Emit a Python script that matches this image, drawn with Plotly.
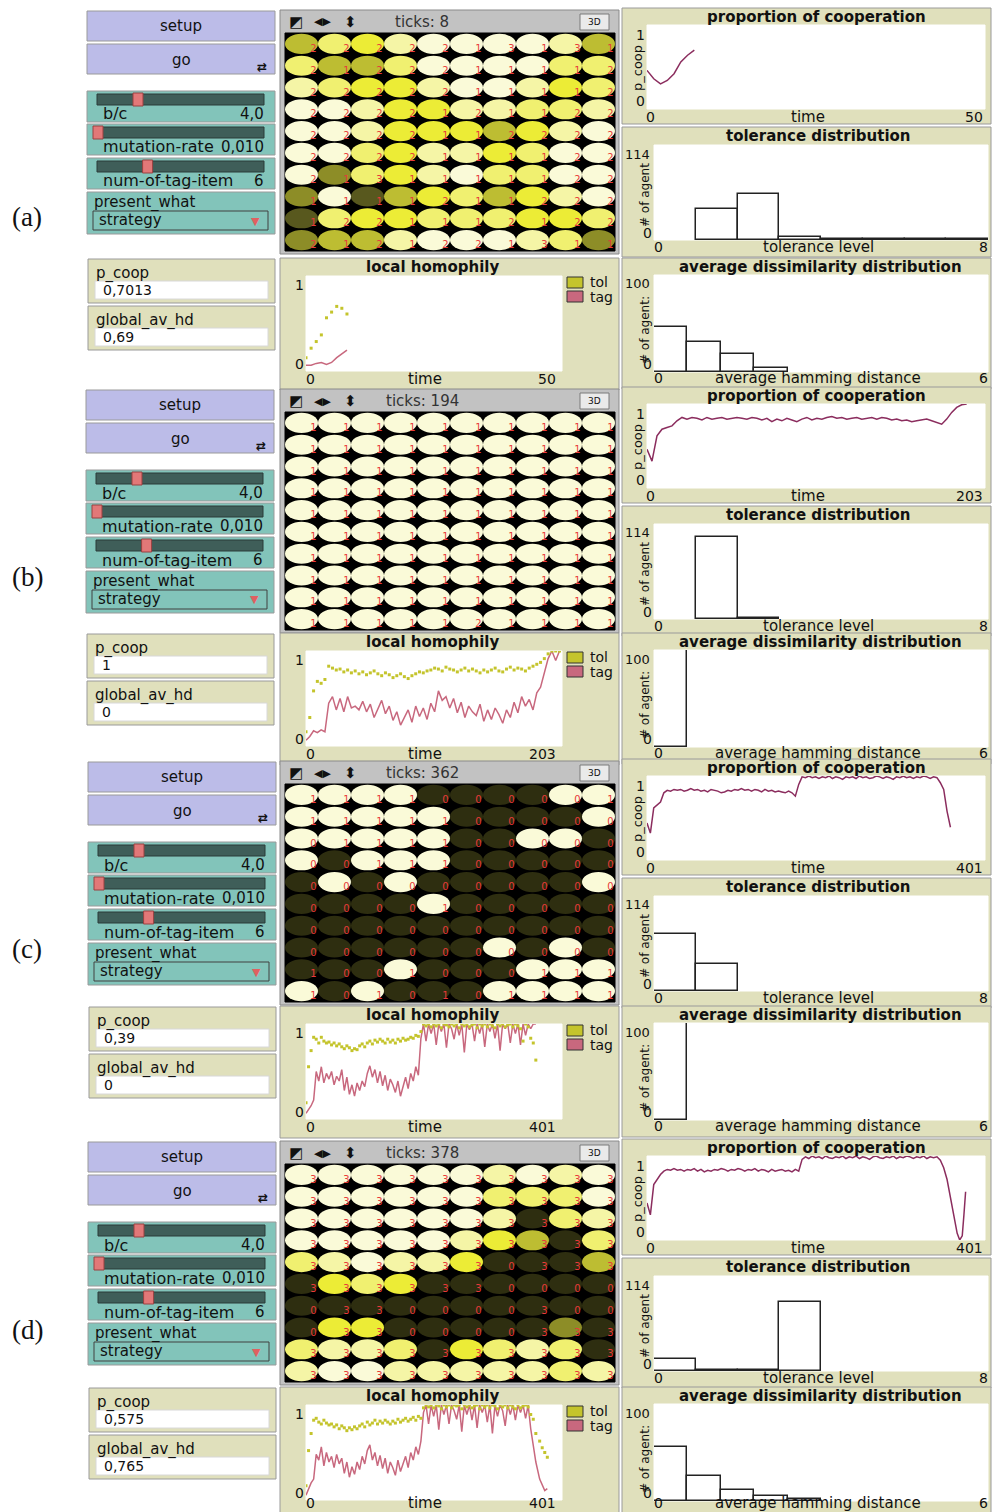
import plotly.graph_objects as go

W, H = 993, 1512
FONT = "DejaVu Sans"

# ------------------------------------------------------------------ data
panel_names = ["(a)", "(b)", "(c)", "(d)"]
ticks_now = [8, 194, 362, 378]
time_max = [50, 203, 401, 401]
monitor_pcoop = ["0,7013", "1", "0,39", "0,575"]
monitor_hd = ["0,69", "0", "0", "0,765"]
slider_names = ["b/c", "mutation-rate", "num-of-tag-item"]
slider_values = ["4,0", "0,010", "6"]
slider_pos = [0.25, 0.0, 0.31]          # handle position along the track
chooser_value = "strategy"

color_codes = {"W": "#FAFAD8", "P": "#F5F5A6", "M": "#F0F070", "B": "#ECEC36",
               "O": "#BDBD32", "K": "#8D8D27", "V": "#58581E", "D": "#2E2E10"}

grid_a = ["OMBPWWWWPO", "MOOMWWWWMM", "PMBBPWWPBM", "WWPBBPPMMP", "WWPBBBOBPW",
          "WWMBPPBMWW", "WKMBPWMMWW", "KWVOBMOBPW", "VMBBMMMBBM", "KOOPWWWPMK"]
tags_a = ["2222213131", "2122211112", "2222211112", "2222121122", "2222112222",
          "2222111122", "2131111122", "1111211222", "1221112122", "2121221311"]
grid_b = ["WWWWWWWWWW"] * 10
tags_b = ["1111111111"] * 9 + ["1111121111"]
grid_c = ["WWWWDDDDWW", "WWWWWDDDDW", "WWWWWDDWWD", "WDWWWDDDDD", "DWDWDDDDDW",
          "DDDDWDDDDD", "DDDDDDDDDD", "DDDDDDWDWD", "DDDWDDDWWW", "WDWDDDWWWW"]
tags_c = ["1111000001", "1111100000", "0111100000", "0011100000", "0000000000",
          "0000100000", "0000000000", "0000000000", "1001000111", "1010101111"]
grid_d = ["WWWWWWPWPW", "WWWWWWMMMW", "WWWWWWPDMP", "WWWWWPBODM", "MPWPPBDDDO",
          "DBMBDDDDDD", "DDDDDDDDDD", "DBBDDDDDKD", "MPPMDBMPMD", "PWWPPPPPMP"]
tags_d = ["3333333333", "3333333333", "3333333333", "3333333333", "3333330333",
          "3333330000", "0330000300", "0330000333", "3333333333", "3333333333"]

# proportion of cooperation
pcoop_a = [0.46, 0.36, 0.30, 0.34, 0.42, 0.56, 0.64, 0.70]
pcoop_b = [0.46, 0.32, 0.62, 0.70, 0.72, 0.74, 0.80, 0.84, 0.82, 0.84,
           0.83, 0.81, 0.84, 0.82, 0.83, 0.84, 0.82, 0.83, 0.84, 0.83,
           0.82, 0.84, 0.83, 0.81, 0.83, 0.79, 0.82, 0.80, 0.83, 0.81,
           0.79, 0.82, 0.84, 0.81, 0.83, 0.82, 0.84, 0.85, 0.83, 0.84,
           0.82, 0.83, 0.84, 0.82, 0.83, 0.84, 0.82, 0.84, 0.83, 0.81,
           0.82, 0.80, 0.81, 0.79, 0.80, 0.81, 0.82, 0.80, 0.78, 0.76,
           0.82, 0.90, 0.96, 0.99, 1.00]
pcoop_c = [0.44, 0.32, 0.62, 0.66, 0.69, 0.80, 0.83, 0.82, 0.84, 0.83,
           0.84, 0.82, 0.83, 0.85, 0.83, 0.84, 0.82, 0.83, 0.81, 0.84,
           0.83, 0.82, 0.80, 0.81, 0.83, 0.82, 0.84, 0.83, 0.85, 0.83,
           0.84, 0.82, 0.84, 0.83, 0.81, 0.84, 0.82, 0.83, 0.81, 0.82,
           0.81, 0.80, 0.82, 0.80, 0.76, 0.90, 0.99, 0.98, 1.00, 0.98,
           0.99, 0.97, 0.99, 0.98, 1.00, 0.97, 0.99, 0.98, 0.96, 0.99,
           0.98, 0.99, 0.97, 1.00, 0.98, 0.99, 0.97, 0.98, 1.00, 0.99,
           0.97, 0.99, 0.98, 0.96, 0.99, 0.98, 1.00, 0.98, 0.99, 0.97,
           0.99, 0.98, 1.00, 0.99, 0.97, 0.99, 0.98, 0.92, 0.84, 0.58, 0.39]
pcoop_d = [0.44, 0.30, 0.66, 0.72, 0.78, 0.82, 0.84, 0.83, 0.85, 0.83,
           0.84, 0.82, 0.84, 0.83, 0.85, 0.82, 0.84, 0.81, 0.83, 0.82,
           0.84, 0.83, 0.85, 0.84, 0.82, 0.84, 0.83, 0.85, 0.84, 0.82,
           0.84, 0.83, 0.85, 0.82, 0.84, 0.83, 0.81, 0.84, 0.82, 0.83,
           0.84, 0.82, 0.83, 0.81, 0.84, 0.82, 0.96, 0.99, 0.97, 1.00,
           0.98, 0.99, 0.97, 1.00, 0.98, 0.97, 0.99, 0.98, 1.00, 0.97,
           0.99, 0.98, 1.00, 0.97, 0.99, 0.98, 0.96, 0.99, 1.00, 0.98,
           0.97, 0.99, 0.98, 1.00, 0.97, 0.99, 0.98, 1.00, 0.99, 0.97,
           0.99, 0.98, 1.00, 0.97, 0.99, 0.98, 0.99,
           0.95, 0.86, 0.72, 0.50, 0.30, 0.08, 0.00, 0.05, 0.30, 0.575]
pcoop_d_tail_ticks = [348, 352, 356, 360, 364, 368, 371, 374, 376, 378]

# local homophily
lh_tol_a = [0.14, 0.24, 0.31, 0.38, 0.56, 0.62, 0.68, 0.66, 0.60]
lh_tag_a = [0.06, 0.06, 0.08, 0.09, 0.07, 0.09, 0.14, 0.18, 0.22]
lh_tol_b = [0.15, 0.30, 0.58, 0.68, 0.66, 0.70, 0.84, 0.82, 0.80, 0.81,
            0.78, 0.80, 0.77, 0.79, 0.76, 0.78, 0.75, 0.77, 0.79, 0.76,
            0.74, 0.77, 0.75, 0.72, 0.74, 0.76, 0.73, 0.71, 0.74, 0.76,
            0.78, 0.77, 0.79, 0.80, 0.82, 0.81, 0.79, 0.83, 0.81, 0.80,
            0.78, 0.80, 0.82, 0.79, 0.81, 0.79, 0.77, 0.80, 0.78, 0.80,
            0.82, 0.79, 0.78, 0.81, 0.83, 0.80, 0.82, 0.81, 0.79, 0.82,
            0.84, 0.86, 0.88, 0.92, 0.97, 1.00, 1.00, 1.00]
lh_tag_b = [0.06, 0.10, 0.16, 0.14, 0.17, 0.15, 0.45, 0.52, 0.38, 0.50,
            0.36, 0.52, 0.40, 0.42, 0.38, 0.47, 0.36, 0.44, 0.30, 0.40,
            0.48, 0.34, 0.42, 0.27, 0.36, 0.22, 0.30, 0.38, 0.25, 0.42,
            0.31, 0.40, 0.28, 0.45, 0.36, 0.58, 0.48, 0.52, 0.40, 0.50,
            0.35, 0.46, 0.30, 0.42, 0.36, 0.32, 0.44, 0.26, 0.38, 0.28,
            0.40, 0.33, 0.24, 0.38, 0.30, 0.46, 0.35, 0.52, 0.42, 0.49,
            0.38, 0.56, 0.62, 0.78, 0.92, 1.00, 0.90, 1.00]
lh_tol_c = [0.17, 0.55, 0.72, 0.86, 0.84, 0.80, 0.86, 0.82, 0.80, 0.81,
            0.78, 0.80, 0.77, 0.79, 0.76, 0.74, 0.77, 0.75, 0.72, 0.74,
            0.73, 0.77, 0.79, 0.76, 0.80, 0.82, 0.79, 0.83, 0.81, 0.84,
            0.82, 0.80, 0.84, 0.81, 0.83, 0.80, 0.84, 0.82, 0.85, 0.83,
            0.84, 0.86, 0.85, 0.88, 0.87, 0.92, 1.00, 0.98, 1.00, 0.97,
            1.00, 0.98, 1.00, 0.96, 1.00, 0.99, 0.97, 1.00, 0.98, 1.00,
            0.96, 1.00, 0.98, 1.00, 0.97, 0.99, 1.00, 0.96, 1.00, 0.98,
            1.00, 0.97, 1.00, 0.98, 0.96, 1.00, 0.98, 1.00, 0.97, 0.99,
            1.00, 0.97, 1.00, 0.98, 0.95, 0.82, 1.00, 0.97, 0.85, 0.80, 0.62]
lh_tag_c = [0.06, 0.10, 0.14, 0.20, 0.50, 0.40, 0.55, 0.38, 0.48, 0.42,
            0.50, 0.36, 0.45, 0.40, 0.52, 0.30, 0.44, 0.26, 0.36, 0.24,
            0.38, 0.30, 0.40, 0.34, 0.48, 0.56, 0.44, 0.52, 0.38, 0.50,
            0.35, 0.46, 0.30, 0.42, 0.36, 0.28, 0.40, 0.24, 0.34, 0.44,
            0.32, 0.48, 0.40, 0.55, 0.46, 0.85, 1.00, 0.82, 1.00, 0.90,
            1.00, 0.78, 1.00, 0.92, 1.00, 0.75, 1.00, 0.95, 0.84, 1.00,
            0.88, 1.00, 0.70, 1.00, 0.94, 1.00, 0.82, 1.00, 0.90, 1.00,
            0.76, 1.00, 0.92, 1.00, 0.85, 1.00, 0.72, 1.00, 0.95, 1.00,
            0.80, 1.00, 0.90, 1.00, 0.78, 1.00, 0.88, 1.00, 0.95, 1.00, 1.00]
lh_tol_d = [0.15, 0.52, 0.70, 0.84, 0.86, 0.82, 0.80, 0.84, 0.81, 0.79,
            0.80, 0.77, 0.79, 0.75, 0.78, 0.76, 0.73, 0.76, 0.74, 0.77,
            0.75, 0.78, 0.80, 0.77, 0.82, 0.79, 0.81, 0.84, 0.80, 0.83,
            0.81, 0.84, 0.82, 0.80, 0.83, 0.81, 0.85, 0.82, 0.84, 0.86,
            0.83, 0.85, 0.87, 0.84, 0.88, 0.86, 0.97, 1.00, 0.98, 1.00,
            0.97, 1.00, 0.99, 0.96, 1.00, 0.98, 1.00, 0.97, 1.00, 0.99,
            1.00, 0.96, 1.00, 0.98, 1.00, 0.97, 0.99, 1.00, 0.96, 1.00,
            0.98, 1.00, 0.97, 1.00, 0.99, 0.96, 1.00, 0.98, 1.00, 0.97,
            1.00, 0.98, 0.96, 1.00, 0.97, 0.99, 1.00,
            0.98, 0.90, 0.85, 0.70, 0.62, 0.55, 0.50, 0.45]
lh_tag_d = [0.05, 0.12, 0.18, 0.22, 0.48, 0.42, 0.56, 0.36, 0.50, 0.40,
            0.46, 0.34, 0.48, 0.38, 0.44, 0.28, 0.40, 0.24, 0.35, 0.27,
            0.40, 0.32, 0.46, 0.38, 0.52, 0.58, 0.42, 0.50, 0.36, 0.47,
            0.33, 0.44, 0.28, 0.40, 0.34, 0.26, 0.42, 0.30, 0.38, 0.46,
            0.34, 0.50, 0.42, 0.56, 0.48, 0.62, 0.92, 1.00, 0.80, 1.00,
            0.88, 1.00, 0.74, 1.00, 0.90, 1.00, 0.80, 1.00, 0.94, 0.85,
            1.00, 0.72, 1.00, 0.90, 1.00, 0.84, 1.00, 0.76, 1.00, 0.92,
            1.00, 0.82, 1.00, 0.70, 1.00, 0.88, 1.00, 0.94, 0.78, 1.00,
            0.90, 1.00, 0.84, 1.00, 0.92, 1.00, 0.86,
            1.00, 0.75, 0.55, 0.40, 0.22, 0.15, 0.10, 0.12]
lh_d_tail_ticks = [348, 352, 356, 360, 366, 370, 374, 378]

# histograms
tol_hist = [[0, 37, 55, 4, 1, 1, 1, 1],
            [0, 99, 1, 0, 0, 0, 0, 0],
            [68, 32, 0, 0, 0, 0, 0, 0],
            [15, 1, 1, 83, 0, 0, 0, 0]]
hd_hist = [[46, 31, 19, 4, 0, 0, 0, 0, 0, 0],
           [100, 0, 0, 0, 0, 0, 0, 0, 0, 0],
           [100, 0, 0, 0, 0, 0, 0, 0, 0, 0],
           [56, 26, 11, 5, 2, 0, 0, 0, 0, 0]]

# time axes for the sampled series
pcoop_t = [list(range(len(pcoop_a))),
           list(range(0, 3 * len(pcoop_b), 3)),
           list(range(0, 4 * len(pcoop_c), 4)),
           list(range(0, 348, 4)) + pcoop_d_tail_ticks]
lh_t = [list(range(len(lh_tol_a))),
        list(range(0, 3 * len(lh_tol_b), 3)),
        list(range(0, 4 * len(lh_tol_c), 4)),
        list(range(0, 348, 4)) + lh_d_tail_ticks]
pcoop_all = [pcoop_a, pcoop_b, pcoop_c, pcoop_d]
lh_tol_all = [lh_tol_a, lh_tol_b, lh_tol_c, lh_tol_d]
lh_tag_all = [lh_tag_a, lh_tag_b, lh_tag_c, lh_tag_d]
grids = [grid_a, grid_b, grid_c, grid_d]
tags = [tags_a, tags_b, tags_c, tags_d]

# panel placement (pixel offsets relative to panel (a))
dy_upper = [0, 379, 751, 1131]
dy_lower = [0, 375, 748, 1129]
dx_left = [0, -1, 1, 1]
label_y = [217, 577, 949, 1330]

# ------------------------------------------------------------------ styles
BEIGE = "#E0E0BC"
LAV = "#BCBCE8"
TEAL = "#82C4BA"
TRACK = "#3F5E59"
BORDER = "#9A9A9A"
PCOOP_COL = "#8B2D5E"
TAG_COL = "#C8687E"
TOL_COL = "#C4C42C"
WORD = 16     # word labels
AXW = 15      # axis word labels
NUM = 14      # numeric labels
TITLE = 15

fig = go.Figure()
shapes, annotations, axes = [], [], {}
naxes = [0]


def X(p):
    return p / W


def Y(p):
    return 1 - p / H


def rect(x0, y0, x1, y1, fill, line=BORDER, lw=1):
    shapes.append(dict(type="rect", xref="paper", yref="paper", layer="below",
                       x0=X(x0), x1=X(x1), y0=Y(y1), y1=Y(y0),
                       fillcolor=fill, line=dict(color=line, width=lw)))


def text(x, y, s, size=WORD, anchor="center", color="#111", bold=False,
         family=FONT, angle=0):
    if bold:
        s = "<b>" + s + "</b>"
    y = min(y, H - size * 0.62)
    annotations.append(dict(xref="paper", yref="paper", x=X(x), y=Y(y), text=s,
                            showarrow=False, xanchor=anchor, yanchor="middle",
                            textangle=angle,
                            font=dict(size=size, color=color, family=family)))


def add_axes(x0, y0, x1, y1, xr, yr):
    naxes[0] += 1
    n = naxes[0]
    s = "" if n == 1 else str(n)
    axes["xaxis" + s] = dict(domain=[X(x0), X(x1)], range=xr, visible=False,
                             fixedrange=True, anchor="y" + s)
    axes["yaxis" + s] = dict(domain=[Y(y1), Y(y0)], range=yr, visible=False,
                             fixedrange=True, anchor="x" + s)
    return "x" + s, "y" + s


for p in range(4):
    du, dl, dx = dy_upper[p], dy_lower[p], dx_left[p]

    text(27, label_y[p], panel_names[p], size=27, family="Liberation Serif")

    # ---- buttons
    rect(87 + dx, 11 + du, 275 + dx, 41 + du, LAV)
    text(181 + dx, 26 + du, "setup", size=15)
    rect(87 + dx, 44 + du, 275 + dx, 74 + du, LAV)
    text(181 + dx, 60 + du, "go", size=15)
    text(262 + dx, 67 + du, "⇄", size=12, bold=True)

    # ---- sliders
    for k, sy in enumerate([91, 124, 158]):
        y0 = sy + du
        rect(87 + dx, y0, 275 + dx, y0 + 31, TEAL)
        rect(97 + dx, y0 + 3, 264 + dx, y0 + 14, TRACK, line="#2A3A38")
        hx = 98 + dx + slider_pos[k] * 160
        rect(hx - 5, y0 + 2, hx + 5, y0 + 15, "#E27878", line="#9A4040")
        text(101 + dx, y0 + 23, slider_names[k], anchor="left")
        text(266 + dx, y0 + 23, slider_values[k], size=15, anchor="right")

    # ---- chooser
    rect(87 + dx, 192 + du, 275 + dx, 234 + du, TEAL)
    text(92 + dx, 202 + du, "present_what", size=15, anchor="left")
    rect(93 + dx, 211 + du, 268 + dx, 230 + du, TEAL, line="#404040")
    text(97 + dx, 220 + du, chooser_value, size=15, anchor="left")
    text(255 + dx, 221 + du, "▼", size=11, color="#E06060")

    # ---- monitors
    for k, (lab, val) in enumerate([("p_coop", monitor_pcoop[p]),
                                    ("global_av_hd", monitor_hd[p])]):
        y0 = 259 + 47 * k + dl
        rect(88 + dx, y0, 275 + dx, y0 + 44, BEIGE)
        text(94 + dx, y0 + 14, lab, size=15, anchor="left")
        rect(95 + dx, y0 + 22, 268 + dx, y0 + 40, "white", line="#D8D8D8")
        text(101 + dx, y0 + 31, val, size=NUM, anchor="left")

    # ---- world view
    rect(280, 10 + du, 619, 254 + du, "#C2C2C2", line="#8A8A8A")
    text(296, 22 + du, "◩", size=15)
    text(322, 22 + du, "◀▶", size=11)
    text(350, 22 + du, "⬍", size=15)
    text(422, 22 + du, "ticks: %d" % ticks_now[p], size=15, color="#333")
    rect(580, 14 + du, 609, 30 + du, "#EAEAEA", line="#7A7A7A")
    text(594, 22 + du, "3D", size=9)
    rect(285, 33 + du, 615, 251 + du, "black", line="black")
    xa, ya = add_axes(285, 33 + du, 615, 251 + du, [-0.5, 9.5], [9.5, -0.5])
    lx, ly, lt = [], [], []
    for r in range(10):
        for c in range(10):
            shapes.append(dict(type="circle", xref=xa, yref=ya, layer="below",
                               x0=c - 0.5, x1=c + 0.5, y0=r - 0.46, y1=r + 0.46,
                               fillcolor=color_codes[grids[p][r][c]], line_width=0))
            lx.append(c + 0.36)
            ly.append(r + 0.26)
            lt.append(tags[p][r][c])
    fig.add_trace(go.Scatter(x=lx, y=ly, text=lt, mode="text", xaxis=xa, yaxis=ya,
                             textfont=dict(color="#E83A3A", size=10, family=FONT),
                             hoverinfo="skip"))

    # ---- proportion of cooperation
    rect(622, 8 + du, 991, 124 + du, BEIGE)
    text(816, 17 + du, "proportion of cooperation", size=TITLE, bold=True)
    rect(647, 25 + du, 985, 109 + du, "white", line="white")
    xa, ya = add_axes(647, 25 + du, 985, 109 + du, [0, time_max[p]], [0, 1])
    fig.add_trace(go.Scatter(x=pcoop_t[p], y=pcoop_all[p], mode="lines",
                             line=dict(color=PCOOP_COL, width=1.5),
                             xaxis=xa, yaxis=ya, hoverinfo="skip"))
    text(640, 35 + du, "1", size=NUM)
    text(640, 101 + du, "0", size=NUM)
    text(637, 68 + du, "p_coop", size=13, angle=-90)
    text(650, 117 + du, "0", size=NUM)
    text(808, 117 + du, "time", size=AXW)
    text(985, 117 + du, str(time_max[p]), size=NUM, anchor="right")

    # ---- tolerance distribution
    rect(622, 127 + du, 991, 257 + du, BEIGE)
    text(818, 136 + du, "tolerance distribution", size=TITLE, bold=True)
    rect(654, 145 + du, 988, 240 + du, "white", line="white")
    xa, ya = add_axes(654, 145 + du, 988, 240 + du, [0, 8], [0, 114])
    fig.add_trace(go.Bar(x=[i + 0.5 for i in range(8)],
                         y=[v if v else None for v in tol_hist[p]], width=1,
                         marker=dict(color="white", line=dict(color="#222", width=1.5)),
                         xaxis=xa, yaxis=ya, hoverinfo="skip"))
    text(652, 154 + du, "114", size=13, anchor="right")
    text(647, 233 + du, "0", size=NUM)
    text(645, 195 + du, "# of agent", size=12, angle=-90)
    text(658, 247 + du, "0", size=NUM)
    text(818, 247 + du, "tolerance level", size=AXW)
    text(983, 247 + du, "8", size=NUM)

    # ---- local homophily
    rect(280, 258 + dl, 619, 390 + dl, BEIGE)
    text(432, 267 + dl, "local homophily", size=TITLE, bold=True)
    rect(306, 276 + dl, 562, 371 + dl, "white", line="white")
    xa, ya = add_axes(306, 276 + dl, 562, 371 + dl, [0, time_max[p]], [0, 1])
    fig.add_trace(go.Scatter(x=lh_t[p], y=lh_tag_all[p], mode="lines",
                             line=dict(color=TAG_COL, width=1.5),
                             xaxis=xa, yaxis=ya, hoverinfo="skip"))
    fig.add_trace(go.Scatter(x=lh_t[p], y=lh_tol_all[p], mode="markers",
                             marker=dict(color=TOL_COL, size=3, symbol="square"),
                             xaxis=xa, yaxis=ya, hoverinfo="skip"))
    rect(567, 277 + dl, 583, 288 + dl, TOL_COL, line="#333")
    text(588, 282 + dl, "tol", size=14, anchor="left")
    rect(567, 291 + dl, 583, 302 + dl, TAG_COL, line="#333")
    text(588, 297 + dl, "tag", size=14, anchor="left")
    text(299, 285 + dl, "1", size=NUM)
    text(299, 364 + dl, "0", size=NUM)
    text(310, 379 + dl, "0", size=NUM)
    text(425, 379 + dl, "time", size=AXW)
    text(558, 379 + dl, str(time_max[p]), size=NUM, anchor="right")

    # ---- average dissimilarity distribution
    rect(622, 258 + dl, 991, 389 + dl, BEIGE)
    text(820, 267 + dl, "average dissimilarity distribution", size=TITLE, bold=True)
    rect(654, 275 + dl, 988, 372 + dl, "white", line="white")
    xa, ya = add_axes(654, 275 + dl, 988, 372 + dl, [0, 6], [0, 100])
    fig.add_trace(go.Bar(x=[0.6 * i + 0.3 for i in range(10)],
                         y=[v if v else None for v in hd_hist[p]], width=0.6,
                         marker=dict(color="white", line=dict(color="#222", width=1.5)),
                         xaxis=xa, yaxis=ya, hoverinfo="skip"))
    text(652, 284 + dl, "100", size=13, anchor="right")
    text(647, 364 + dl, "0", size=NUM)
    text(645, 330 + dl, "# of agent:", size=12, angle=-90)
    text(658, 378 + dl, "0", size=NUM)
    text(818, 378 + dl, "average hamming distance", size=AXW)
    text(983, 378 + dl, "6", size=NUM)

fig.update_layout(width=W, height=H, margin=dict(l=0, r=0, t=0, b=0),
                  paper_bgcolor="white", plot_bgcolor="rgba(0,0,0,0)",
                  showlegend=False, hovermode=False, bargap=0,
                  shapes=shapes, annotations=annotations, **axes)
fig.write_html("out.html")
